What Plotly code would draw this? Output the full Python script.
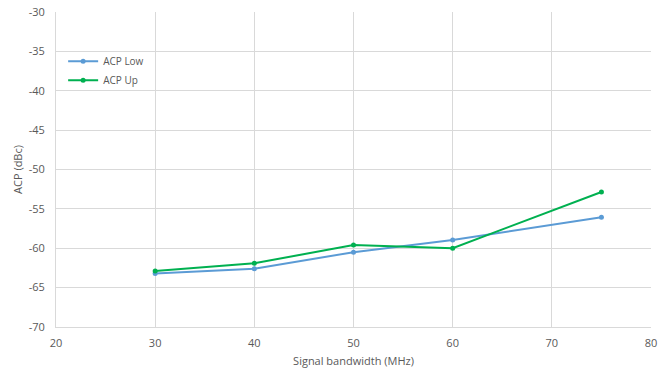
import plotly.graph_objects as go

bandwidth = [30, 40, 50, 60, 75]
acp_low = [-63.2, -62.6, -60.5, -58.95, -56.05]
acp_up = [-62.9, -61.9, -59.6, -60.0, -52.85]
y_ticks = [-70, -65, -60, -55, -50, -45, -40, -35, -30]
y_tick_labels = ["-70", "-65", "-60", "-55", "-50", "-45", "-40", "-35", "-30"]

fig = go.Figure()
fig.add_trace(go.Scatter(x=bandwidth, y=acp_low, mode="lines+markers", name="ACP Low",
                         line=dict(color="#5B9BD5", width=2), marker=dict(size=5, color="#5B9BD5")))
fig.add_trace(go.Scatter(x=bandwidth, y=acp_up, mode="lines+markers", name="ACP Up",
                         line=dict(color="#00B050", width=2), marker=dict(size=5, color="#00B050")))

font_color = "#595959"
fig.update_layout(
    width=661, height=377,
    margin=dict(l=56, r=10, t=12, b=50, autoexpand=False),
    paper_bgcolor="white", plot_bgcolor="white",
    font=dict(family="Open Sans, Liberation Sans, sans-serif", size=10, color=font_color),
    showlegend=True,
    legend=dict(x=0.012, y=0.89, xanchor="left", yanchor="top", bgcolor="rgba(0,0,0,0)",
                font=dict(size=10, color=font_color), itemwidth=30, tracegroupgap=0),
    xaxis=dict(range=[20, 80], dtick=10, tick0=20, showgrid=True, gridcolor="#D9D9D9",
               zeroline=False, showline=True, linecolor="#D9D9D9", mirror=False,
               ticks="", automargin=False, ticklabelstandoff=6,
               tickfont=dict(size=11, color=font_color),
               title=dict(text="Signal bandwidth (MHz)", standoff=8,
                          font=dict(size=11, color=font_color))),
    yaxis=dict(range=[-70, -30], tickvals=y_ticks, ticktext=y_tick_labels, showgrid=True,
               gridcolor="#D9D9D9", zeroline=False, showline=True, linecolor="#D9D9D9",
               ticks="", automargin=False, ticklabelstandoff=8,
               tickfont=dict(size=11, color=font_color),
               title=dict(text="ACP (dBc)", standoff=3, font=dict(size=11, color=font_color))),
)
fig.write_html("out.html", config={"displayModeBar": False},
               post_script="document.body.style.margin='0';")
